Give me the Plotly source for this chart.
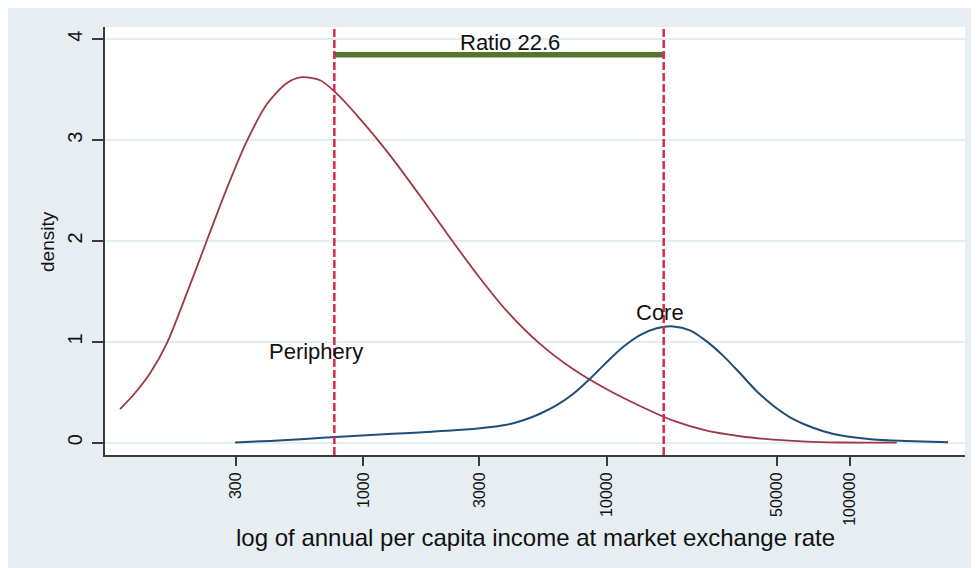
import plotly.graph_objects as go

# ---- data ----
periphery_income = [100, 115, 133, 156, 188, 227, 274, 332, 401, 484, 558, 664, 765, 969,
                    1288, 1711, 2272, 3019, 3886, 5325, 7300, 10015, 13730, 18810,
                    25800, 35380, 48480, 66500, 91150, 155900]
periphery_density = [0.334, 0.490, 0.690, 0.990, 1.480, 2.0, 2.515, 2.990, 3.356, 3.564,
                     3.624, 3.594, 3.478, 3.211, 2.849, 2.448, 2.032, 1.631, 1.307, 0.980,
                     0.728, 0.530, 0.364, 0.218, 0.119, 0.064, 0.030, 0.010, 0.002, 0.0]

core_income = [297, 413, 576, 802, 1117, 1556, 2167, 3019, 3886, 4548, 5325, 6240, 7300,
               8550, 10015, 11720, 13730, 16080, 18810, 22030, 25800, 30200, 35380, 41430,
               48480, 56780, 66500, 77820, 91150, 124960, 171300, 253300]
core_density = [0.003, 0.018, 0.037, 0.059, 0.079, 0.097, 0.118, 0.143, 0.178, 0.222,
                0.287, 0.372, 0.485, 0.634, 0.799, 0.951, 1.067, 1.134, 1.153, 1.114,
                1.005, 0.861, 0.688, 0.510, 0.366, 0.252, 0.173, 0.114, 0.074, 0.032,
                0.017, 0.005]

cutoffs = [760, 17176]          # periphery / core reference incomes
ratio_level = [3.846, 3.846]    # height of the ratio bar
ratio_label = "Ratio 22.6"

y_ticks = [0, 1, 2, 3, 4]
x_ticks = [300, 1000, 3000, 10000, 50000, 100000]
x_tick_labels = ["300", "1000", "3000", "10000", "50000", "100000"]

# ---- style ----
FONT = "Liberation Sans, Arial, sans-serif"
BG = "#e6eef2"
RED = "#a03745"
NAVY = "#1f4e79"
GREEN = "#55752f"
CRIMSON = "#d42a4f"
AXIS = "#3a3a3a"

# page body adds an 8px offset, so the figure is laid out 8px smaller
W, H = 971, 560
L, R, T, B = 97, 14, 19, 113
pw, ph = W - L - R, H - T - B

fig = go.Figure()

fig.add_trace(go.Scatter(x=periphery_income, y=periphery_density, mode="lines",
                         line=dict(color=RED, width=1.8, shape="spline", smoothing=0.8),
                         showlegend=False, hoverinfo="skip"))
fig.add_trace(go.Scatter(x=core_income, y=core_density, mode="lines",
                         line=dict(color=NAVY, width=2, shape="spline", smoothing=0.8),
                         showlegend=False, hoverinfo="skip"))
fig.add_trace(go.Scatter(x=cutoffs, y=ratio_level, mode="lines",
                         line=dict(color=GREEN, width=5.5),
                         showlegend=False, hoverinfo="skip"))

for c in cutoffs:
    fig.add_shape(type="line", xref="x", yref="paper", x0=c, x1=c, y0=0, y1=1,
                  line=dict(color=CRIMSON, width=2.5, dash="8px,3px"), layer="above")

fig.add_annotation(x=3.603, y=3.97, xref="x", yref="y", text=ratio_label,
                   showarrow=False, font=dict(family=FONT, size=22, color="#111"))
fig.add_annotation(x=2.8035, y=0.90, xref="x", yref="y", text="Periphery",
                   showarrow=False, font=dict(family=FONT, size=22, color="#111"))
fig.add_annotation(x=4.2197, y=1.29, xref="x", yref="y", text="Core",
                   showarrow=False, font=dict(family=FONT, size=22, color="#111"))

# axis titles
fig.add_annotation(x=0.5, y=(H - B - 529) / ph, xref="paper", yref="paper",
                   xanchor="center", yanchor="middle",
                   text="log of annual per capita income at market exchange rate",
                   showarrow=False, font=dict(family=FONT, size=24, color="#111"))
fig.add_annotation(x=(39 - L) / pw, y=0.5, xref="paper", yref="paper",
                   xanchor="center", yanchor="middle", text="density",
                   textangle=-90, showarrow=False, font=dict(family=FONT, size=19, color="#111"))

fig.update_xaxes(type="log", range=[1.938, 5.4736], tickvals=x_ticks, ticktext=x_tick_labels,
                 tickangle=-90, ticks="outside", ticklen=9, tickwidth=1.5, tickcolor=AXIS,
                 showline=True, linecolor=AXIS, linewidth=2, showgrid=False, zeroline=False,
                 tickfont=dict(family=FONT, size=16, color="#111"))
fig.update_yaxes(range=[-0.122, 4.122], tickvals=y_ticks, tickangle=-90,
                 ticks="outside", ticklen=11, tickwidth=1.5, tickcolor=AXIS,
                 showline=True, linecolor=AXIS, linewidth=2, showgrid=True,
                 gridcolor="#e4edf0", gridwidth=1.5, zeroline=False, ticklabelstandoff=2,
                 tickfont=dict(family=FONT, size=20, color="#111"))

fig.update_layout(width=W, height=H, margin=dict(l=L, r=R, t=T, b=B, pad=0),
                  paper_bgcolor=BG, plot_bgcolor="white", showlegend=False,
                  font=dict(family=FONT))

fig.write_html("out.html")
